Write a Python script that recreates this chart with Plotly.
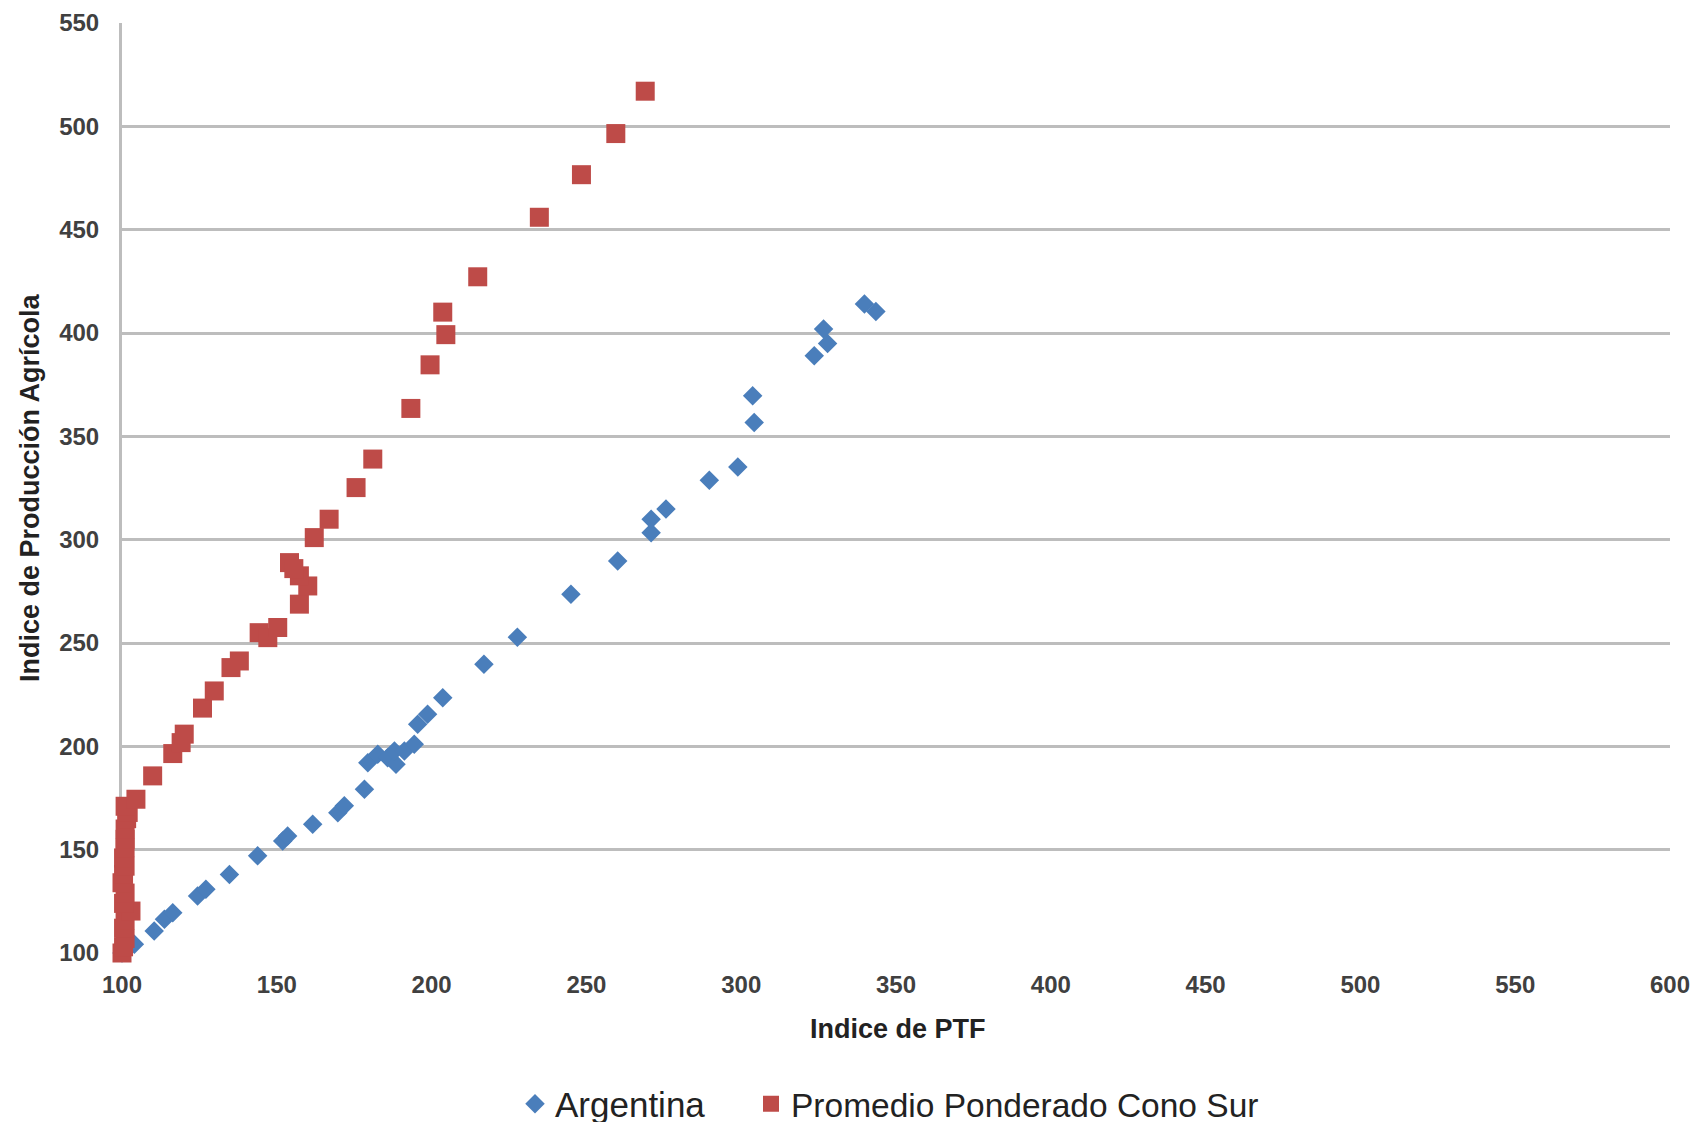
import plotly.graph_objects as go

# Argentina: Indice de PTF (x) vs Indice de Producción Agrícola (y)
arg_ptf = [100, 104, 110.4, 113.7, 116.4, 124.4, 127.1, 134.7, 143.8, 151.9, 153.5,
           161.6, 169.7, 171.8, 178.3, 179.4, 182.6, 185.8, 188.5, 188, 191.2, 194.4,
           195.5, 198.7, 203.6, 216.9, 227.7, 245, 260.1, 270.9, 270.9, 275.7, 289.7,
           298.9, 304.2, 303.7, 323.6, 327.9, 326.6, 339.8, 343.5]
arg_prod = [100, 104.2, 110.6, 116.3, 119.5, 127.6, 130.8, 138, 147, 154.2, 156.6,
            162.3, 167.9, 171.2, 179.2, 192.1, 196.2, 194.5, 191.3, 197.8, 197.8, 201,
            210.7, 215.5, 223.5, 239.7, 252.8, 273.6, 289.7, 303.4, 309.9, 314.8, 328.8,
            335.2, 356.7, 369.6, 389, 394.9, 401.9, 414, 410.4]

# Promedio Ponderado Cono Sur
cs_ptf = [100, 100.5, 101, 100.5, 101, 102.9, 100.5, 101, 100, 100.5, 101, 100.5,
          101, 101, 101, 101.5, 102, 101, 104.5, 109.9, 116.4, 119.1, 120.1, 126,
          129.8, 135.2, 137.9, 144.3, 147.1, 150.3, 157.3, 160, 157.3, 154.1, 155.5,
          162.1, 166.9, 175.6, 181, 193.3, 199.5, 204.6, 203.6, 214.9, 234.8, 248.4,
          259.5, 269]
cs_prod = [100, 103, 107, 112, 116, 120.3, 124, 129, 134, 138, 142, 146,
           151, 155, 160, 165, 168, 171, 174.4, 185.7, 196.5, 201.8, 205.9, 218.5,
           226.8, 238.1, 241.3, 255, 252.6, 257.5, 268.8, 277.6, 282.5, 288.9, 286,
           301, 309.9, 325.2, 339, 363.5, 384.6, 399.2, 410.1, 427.2, 456, 476.6,
           496.5, 517]

x_ticks = [100, 150, 200, 250, 300, 350, 400, 450, 500, 550, 600]
y_ticks = [100, 150, 200, 250, 300, 350, 400, 450, 500, 550]

FONT = "Liberation Sans, Arial, sans-serif"
BLUE = "#4a7ebb"
RED = "#be4b48"
GRID = "#bdbdbd"
TICK_COLOR = "#404040"

# the page body has an 8px margin; the figure is made a little taller than the
# window so that the legend never pushes the plot margins
W, H = 1692, 1160
ML, MR, MT = 114, 30, 15
PW, PH = W - ML - MR, 930
MB = H - MT - PH

fig = go.Figure()
fig.add_trace(go.Scatter(
    x=arg_ptf, y=arg_prod, mode="markers", name="Argentina",
    marker=dict(symbol="diamond", size=15, color=BLUE, line=dict(width=0)),
    cliponaxis=False, legend="legend",
))
fig.add_trace(go.Scatter(
    x=cs_ptf, y=cs_prod, mode="markers", name="Promedio Ponderado Cono Sur",
    marker=dict(symbol="square", size=19, color=RED, line=dict(width=0)),
    cliponaxis=False, legend="legend2",
))

legend_y = (MT + PH - 1096) / PH

fig.update_layout(
    width=W, height=H,
    margin=dict(l=ML, r=MR, t=MT, b=MB, pad=0),
    paper_bgcolor="white", plot_bgcolor="white",
    font=dict(family=FONT, color="#333333"),
    showlegend=True,
    legend=dict(
        orientation="h", x=(507 - ML) / PW, xanchor="left",
        y=legend_y, yanchor="middle",
        font=dict(family=FONT, size=35, color="#222222"),
        bgcolor="rgba(0,0,0,0)",
    ),
    legend2=dict(
        orientation="h", x=(743 - ML) / PW, xanchor="left",
        y=legend_y, yanchor="middle",
        font=dict(family=FONT, size=33.5, color="#222222"),
        bgcolor="rgba(0,0,0,0)",
    ),
    xaxis=dict(
        range=[100, 600], tickvals=x_ticks, ticktext=[str(v) for v in x_ticks],
        showgrid=False, zeroline=False, showline=False, automargin=False,
        tickfont=dict(family=FONT, size=24, color=TICK_COLOR, weight="bold"),
        ticks="", ticklabelstandoff=15,
    ),
    yaxis=dict(
        range=[100, 550], tickvals=y_ticks, ticktext=[str(v) for v in y_ticks],
        showgrid=True, gridcolor=GRID, gridwidth=3, zeroline=False,
        showline=True, linecolor=GRID, linewidth=3, layer="below traces",
        automargin=False,
        tickfont=dict(family=FONT, size=24, color=TICK_COLOR, weight="bold"),
        ticks="", ticklabelstandoff=15,
    ),
    annotations=[
        dict(text="<b>Indice de PTF</b>", xref="paper", yref="paper",
             x=(890 - ML) / PW, y=(MT + PH - 1021) / PH,
             xanchor="center", yanchor="middle", showarrow=False,
             font=dict(family=FONT, size=27, color="#222222")),
        dict(text="<b>Indice de Producción Agrícola</b>", xref="paper", yref="paper",
             x=(22 - ML) / PW, y=0.5, xanchor="center", yanchor="middle",
             showarrow=False, textangle=-90,
             font=dict(family=FONT, size=27, color="#222222")),
    ],
)

fig.write_html("out.html")
